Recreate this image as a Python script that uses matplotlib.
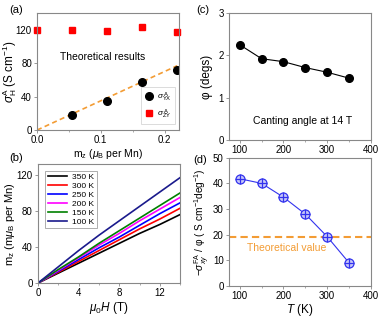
import matplotlib
matplotlib.use("Agg")
import matplotlib.pyplot as plt
import numpy as np
from matplotlib.ticker import AutoMinorLocator

plt.rcParams['font.family'] = ['Liberation Sans', 'DejaVu Sans']
plt.rcParams['mathtext.fontset'] = 'custom'
plt.rcParams['mathtext.rm'] = 'Liberation Sans'
plt.rcParams['mathtext.it'] = 'Liberation Sans:italic'

# (a)
mz_red = [0.0, 0.055, 0.11, 0.165, 0.22]
sigma_zy = [120, 120, 118, 123, 117]
mz_black = [0.055, 0.11, 0.165, 0.22]
sigma_yx = [18, 35, 58, 72]
fit_x = [0.0, 0.22]
fit_y = [0.0, 77]

# (b)
field = [0, 2, 4, 6, 8, 10, 12, 14]
temps_b = ['350 K', '300 K', '250 K', '200 K', '150 K', '100 K']
colors_b = ['black', 'red', 'blue', 'magenta', 'green', '#1a1a8c']
mz_curves = [
    [0, 11, 22, 33, 44, 55, 65, 76],
    [0, 12, 24, 36, 48, 60, 71, 83],
    [0, 13, 26, 39, 51, 64, 77, 89],
    [0, 14, 28, 42, 55, 69, 82, 95],
    [0, 15, 29, 44, 58, 72, 86, 100],
    [0, 18, 36, 53, 69, 85, 101, 117],
]

# (c)
T = [100, 150, 200, 250, 300, 350]
phi = [2.25, 1.92, 1.85, 1.71, 1.60, 1.46]

# (d)
ratio = [41.8, 40.0, 34.6, 28.0, 19.2, 9.0]
theory_value = 19

fig = plt.figure(figsize=(3.82, 3.18), dpi=100)
ax_a = fig.add_axes([0.097, 0.591, 0.372, 0.368])
ax_b = fig.add_axes([0.0995, 0.110, 0.372, 0.374])
ax_c = fig.add_axes([0.599, 0.560, 0.372, 0.399])
ax_d = fig.add_axes([0.599, 0.101, 0.372, 0.403])

spine_col = '#888888'
for ax in (ax_a, ax_b, ax_c, ax_d):
    for s in ax.spines.values():
        s.set_color(spine_col)
        s.set_linewidth(0.8)
    ax.tick_params(direction='out', length=2.5, width=0.6, labelsize=7,
                   color=spine_col, pad=1.2)
    ax.tick_params(which='minor', direction='out', length=1.5, width=0.5, color=spine_col)
    ax.xaxis.set_minor_locator(AutoMinorLocator(2))

# (a)
ax_a.plot(fit_x, fit_y, '--', color='#f39c34', lw=1.2, dashes=(3, 2))
ax_a.plot(mz_black, sigma_yx, 'o', color='black', ms=5.5,
          label=r'$\sigma^{\,\mathrm{A}}_{\mathrm{YX}}$')
ax_a.plot(mz_red, sigma_zy, 's', color='red', ms=5,
          label=r'$\sigma^{\,\mathrm{A}}_{\mathrm{ZY}}$', clip_on=False)
ax_a.set_xlim(0, 0.223)
ax_a.set_ylim(0, 140)
ax_a.set_xticks([0.0, 0.1, 0.2])
ax_a.set_xticklabels(['0.0', '0.1', '0.2'])
ax_a.set_yticks([0, 40, 80, 120])
ax_a.set_xlabel(r'm$_\mathrm{z}$ ($\mu_\mathrm{B}$ per Mn)', fontsize=7.5, labelpad=1)
ax_a.set_ylabel(r'$\sigma^{\mathrm{A}}_{\mathrm{H}}$ (S cm$^{-1}$)', fontsize=8.5)
ax_a.yaxis.set_label_coords(-0.125, 0.5)
ax_a.text(0.103, 88, 'Theoretical results', fontsize=7.5, ha='center', va='center')
leg = ax_a.legend(loc='lower right', fontsize=6, frameon=True, handletextpad=0.4,
                  borderpad=0.35, labelspacing=0.45, handlelength=1.2, fancybox=False,
                  bbox_to_anchor=(1.0, 0.02))
leg.get_frame().set_edgecolor('#cccccc')
leg.get_frame().set_linewidth(0.6)
fig.text(0.025, 0.985, '(a)', fontsize=8, va='top')

# (b)
for lab, col, ys in zip(temps_b, colors_b, mz_curves):
    ax_b.plot(field, ys, color=col, lw=1.2, label=lab)
ax_b.set_xlim(0, 14)
ax_b.set_ylim(0, 132)
ax_b.set_xticks([0, 4, 8, 12])
ax_b.set_yticks([0, 40, 80, 120])
ax_b.set_xlabel(r'$\mu_0$$H$ (T)', fontsize=8.5, labelpad=1)
ax_b.set_ylabel(r'm$_\mathrm{z}$ (m$\mu_\mathrm{B}$ per Mn)', fontsize=8, labelpad=0)
leg = ax_b.legend(loc='upper left', fontsize=6, frameon=True, handlelength=2.3,
                  labelspacing=0.12, borderpad=0.35, handletextpad=0.6, fancybox=False,
                  bbox_to_anchor=(0.02, 0.98))
leg.get_frame().set_edgecolor('#888888')
leg.get_frame().set_linewidth(0.6)
fig.text(0.025, 0.52, '(b)', fontsize=8, va='top')

# (c)
ax_c.plot(T, phi, '-o', color='black', ms=5.5, lw=0.8)
ax_c.set_xlim(75, 400)
ax_c.set_ylim(0, 3)
ax_c.set_xticks([100, 200, 300, 400])
ax_c.set_yticks([0, 1, 2, 3])
ax_c.set_ylabel('φ (degs)', fontsize=8.5, labelpad=4)
ax_c.text(0.52, 0.15, 'Canting angle at 14 T', transform=ax_c.transAxes,
          fontsize=7.5, ha='center', va='center')
fig.text(0.515, 0.985, '(c)', fontsize=8, va='top')

# (d)
ax_d.axhline(theory_value, color='#f39c34', lw=1.5, ls=(0, (3.5, 2)))
ax_d.plot(T, ratio, '-', color='#3333ee', lw=0.8)
ax_d.plot(T, ratio, 'o', mfc='#c8c8f8', mec='#3333ee', ms=6.5, mew=0.9)
ax_d.plot(T, ratio, '+', color='#3333ee', ms=6.5, mew=0.9)
ax_d.set_xlim(75, 400)
ax_d.set_ylim(0, 50)
ax_d.set_xticks([100, 200, 300, 400])
ax_d.set_yticks([0, 10, 20, 30, 40, 50])
ax_d.set_xlabel(r'$T$ (K)', fontsize=8.5, labelpad=1)
ax_d.set_ylabel(r'$-\sigma^{\mathrm{FA}}_{xy}$ / φ ( S cm$^{-1}$deg$^{-1}$)',
                fontsize=7.3, labelpad=1)
ax_d.text(208, 14.8, 'Theoretical value', color='#f39c34', fontsize=7.5,
          ha='center', va='center')
fig.text(0.507, 0.512, '(d)', fontsize=8, va='top')

fig.savefig('out.png', dpi=100)
